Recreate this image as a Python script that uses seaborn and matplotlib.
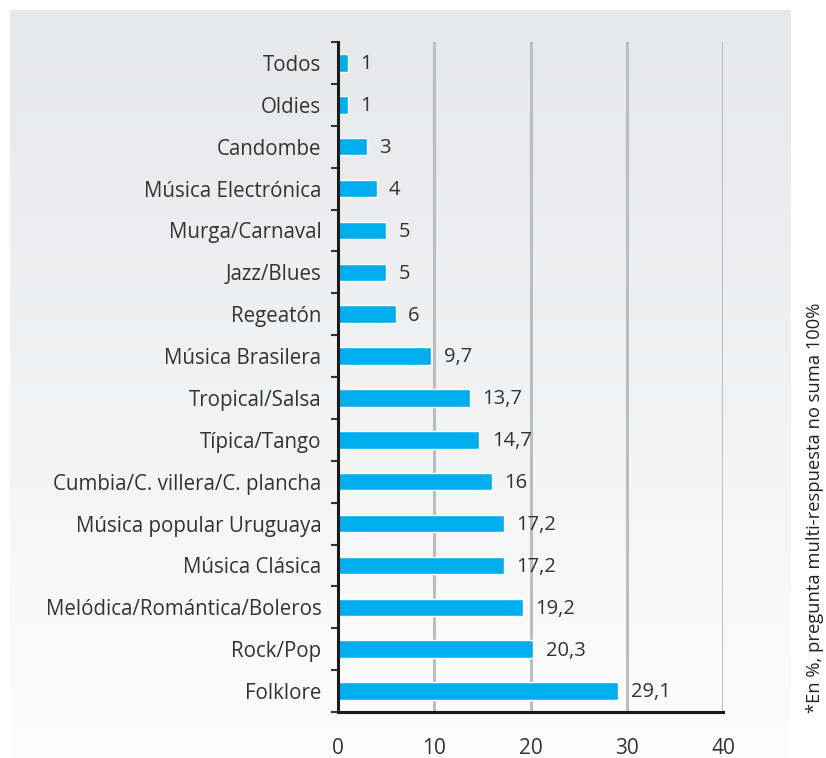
import numpy as np
import pandas as pd
import matplotlib
matplotlib.use("Agg")
import matplotlib.pyplot as plt
from matplotlib.ticker import FixedLocator
import seaborn as sns

# Music genre preferences (%)
genres = [
    "Todos", "Oldies", "Candombe", "Música Electrónica", "Murga/Carnaval",
    "Jazz/Blues", "Regeatón", "Música Brasilera", "Tropical/Salsa",
    "Típica/Tango", "Cumbia/C. villera/C. plancha", "Música popular Uruguaya",
    "Música Clásica", "Melódica/Romántica/Boleros", "Rock/Pop", "Folklore",
]
percent = [1, 1, 3, 4, 5, 5, 6, 9.7, 13.7, 14.7, 16, 17.2, 17.2, 19.2, 20.3, 29.1]
x_ticks = [0, 10, 20, 30, 40]
note = "*En %, pregunta multi-respuesta no suma 100%"

df = pd.DataFrame({"genero": genres, "pct": percent})

sns.set_theme(style="white")
plt.rcParams["font.family"] = ["Open Sans", "DejaVu Sans"]

W, H = 826, 758
fig = plt.figure(figsize=(W / 100, H / 100), dpi=100)
fig.patch.set_facecolor("white")

# Soft grey panel behind the chart, fading to white at the bottom
bg = fig.add_axes([10 / W, 0, (791 - 10) / W, (H - 10) / H], zorder=0)
grad = np.linspace(0, 1, 256).reshape(-1, 1)
top_c = np.array([230, 231, 233]) / 255
bot_c = np.array([253, 253, 253]) / 255
img = top_c[None, None, :] * (1 - grad[:, :, None]) + bot_c[None, None, :] * grad[:, :, None]
bg.imshow(img, aspect="auto", extent=[0, 1, 0, 1], origin="upper")
bg.set_axis_off()

top_px, bot_px = 42, 712
ax = fig.add_axes([338 / W, 1 - bot_px / H, (723 - 338) / W, (bot_px - top_px) / H], zorder=1)
ax.patch.set_alpha(0)

sns.barplot(data=df, x="pct", y="genero", orient="h", color="#00adef",
            saturation=1, width=0.42, ax=ax, zorder=3)

ax.set_xlim(0, 40)
ax.set_ylim(len(genres) - 0.5, -0.5)
ax.set_xticks(x_ticks)
ax.set_xticklabels([str(t) for t in x_ticks])
ax.set_xlabel("")
ax.set_ylabel("")

# vertical grid
for t in x_ticks[1:]:
    ax.axvline(t, color="#bcbdc0", lw=2.2, zorder=1)

for s in ["top", "right"]:
    ax.spines[s].set_visible(False)
for s in ["left", "bottom"]:
    ax.spines[s].set_color("#1a1a1a")
    ax.spines[s].set_linewidth(2.2)
    ax.spines[s].set_zorder(4)

ax.tick_params(axis="x", direction="out", length=4, width=1.5, color="#1a1a1a",
               pad=15, labelsize=15, labelcolor="#333333")
ax.tick_params(axis="y", which="major", length=0, pad=12, labelsize=14.8,
               labelcolor="#333333")
ax.yaxis.set_minor_locator(FixedLocator(np.arange(-0.5, len(genres), 1)))
ax.tick_params(axis="y", which="minor", direction="out", length=5, width=1.5,
               color="#333333", left=True)

# value labels
for i, v in enumerate(percent):
    txt = f"{v:g}".replace(".", ",")
    ax.annotate(txt, (v, i), xytext=(9, -1), textcoords="offset points",
                ha="left", va="center", fontsize=14.5, color="#333333", zorder=5)

fig.text(815 / W, 1 - 508 / H, note, rotation=90, ha="center", va="center",
         fontsize=13.2, color="#222222")

fig.savefig("out.png", dpi=100)
